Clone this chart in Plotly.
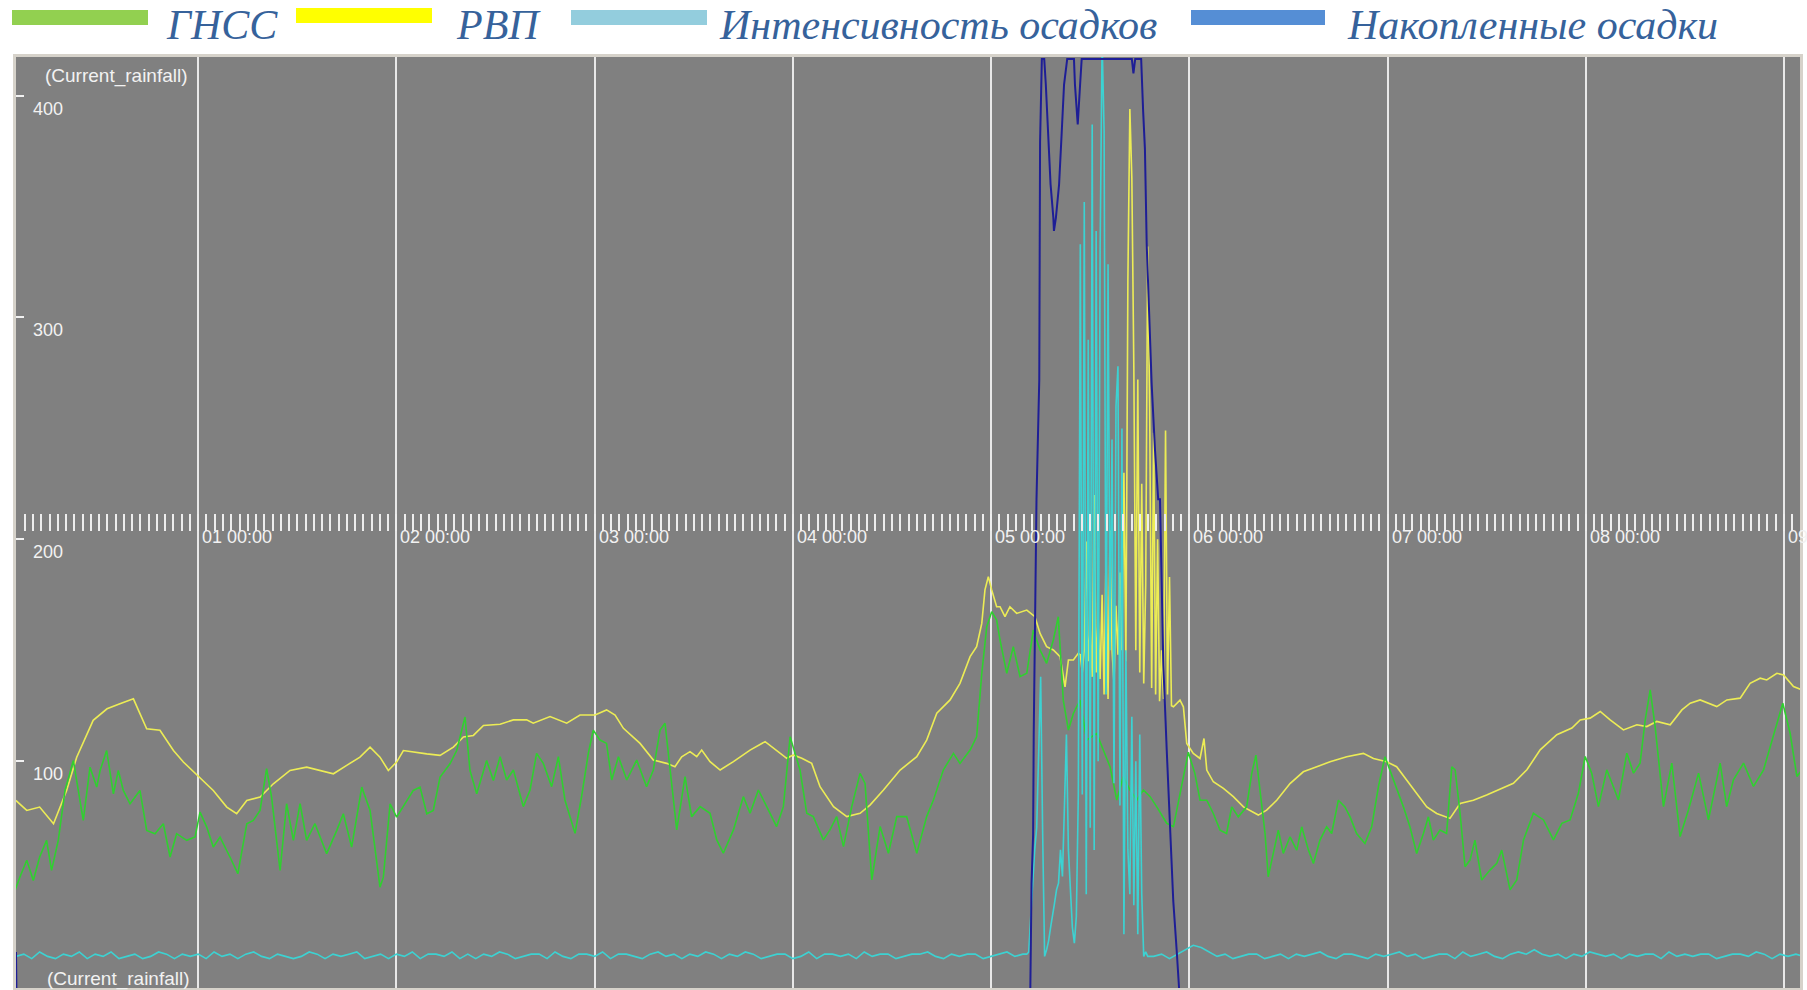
import plotly.graph_objects as go

# ---------------- data (time in days, values in chart units) ----------------
gnss = [(0.076,41.7),(0.10,47.7),(0.135,55.3),(0.168,46.2),(0.20,56.8),(0.235,64.3),(0.26,50.8),(0.294,64.3),
(0.328,86.8),(0.37,100.3),(0.395,86.8),(0.42,73.3),(0.454,97.3),(0.488,88.3),(0.505,95.8),(0.538,104.8),
(0.572,85.3),(0.597,95.8),(0.622,86.8),(0.656,80.8),(0.706,86.8),(0.74,68.8),(0.782,67.3),(0.824,71.8),
(0.858,56.8),(0.891,67.3),(0.942,64.3),(0.984,65.8),(1.009,77),(1.043,70.3),(1.076,61.3),(1.11,65.8),
(1.16,56.8),(1.20,49.3),(1.245,71.8),(1.278,73.3),(1.312,77.8),(1.345,96.6),(1.37,83.8),(1.413,50.8),
(1.446,80.8),(1.48,64.3),(1.514,80.8),(1.547,64.3),(1.589,71.8),(1.648,58.3),(1.699,68.8),(1.732,76.3),
(1.774,61.3),(1.825,88.3),(1.867,77.8),(1.917,43.2),(1.934,47.7),(1.968,80.8),(2.001,74.8),(2.043,80.8),
(2.085,86.8),(2.119,88.3),(2.153,76.3),(2.186,77.8),(2.22,92.8),(2.27,98.8),(2.304,104.8),(2.346,119.9),
(2.371,95.8),(2.405,85.3),(2.455,100.3),(2.489,91.3),(2.523,102),(2.556,91.5),(2.59,96),(2.64,79.5),
(2.674,87),(2.707,103.5),(2.741,99),(2.783,88.5),(2.817,102),(2.85,82.5),(2.901,67.5),(2.934,84),
(2.968,103.5),(2.993,114),(3.027,109.5),(3.06,108),(3.086,91.5),(3.12,102),(3.162,91.5),(3.212,100.5),
(3.262,88.5),(3.296,96),(3.33,114),(3.355,117.1),(3.38,97.5),(3.414,69),(3.456,93),(3.489,75),
(3.532,79.5),(3.582,76.5),(3.616,64.5),(3.649,58.5),(3.70,69),(3.75,84),(3.784,76.5),(3.826,87),
(3.868,79.5),(3.918,70.5),(3.952,79.5),(3.986,111),(4.011,103.5),(4.036,96),(4.07,76.5),(4.103,75),
(4.154,64.5),(4.187,69),(4.221,75),(4.255,61.5),(4.297,79.5),(4.339,94.5),(4.364,90),(4.398,46.5),
(4.44,70.5),(4.482,58.5),(4.524,75),(4.574,75),(4.625,58.5),(4.675,75),(4.709,82.5),(4.759,96),
(4.81,103.5),(4.843,99),(4.894,105),(4.927,111),(4.953,139.6),(4.978,160.6),(5.003,167.4),(5.028,163.6),
(5.045,154.6),(5.079,139.6),(5.112,151.6),(5.146,138.1),(5.18,139.6),(5.213,159.1),(5.247,150.1),(5.28,144.1),
(5.314,154.6),(5.339,165.1),(5.364,127.5),(5.39,114),(5.415,121.5),(5.449,127.5),(5.482,109.5),(5.533,112.5),
(5.566,105),(5.60,97.5),(5.634,82.5),(5.667,93),(5.701,87),(5.735,82.5),(5.768,87),(5.802,84),
(5.835,79.5),(5.886,72),(5.92,70.5),(5.953,85.5),(5.995,104),(6.028,94.5),(6.054,82.4),(6.088,82.4),
(6.121,76.4),(6.155,68.9),(6.188,67.4),(6.214,79.4),(6.247,74.9),(6.289,79.4),(6.315,94.5),(6.336,102.7),
(6.356,88.5),(6.382,67.4),(6.398,47.9),(6.424,58.4),(6.449,68.9),(6.474,58.4),(6.508,65.9),(6.542,59.9),
(6.567,70.4),(6.601,59.9),(6.626,53.9),(6.659,64.4),(6.693,70.4),(6.718,67.4),(6.752,82.4),(6.785,79.4),
(6.811,74.9),(6.844,67.4),(6.886,62.9),(6.92,70.4),(6.954,88.5),(6.987,102),(7.012,96),(7.046,86.9),
(7.08,79.4),(7.113,70.4),(7.147,58.4),(7.181,67.4),(7.206,74.9),(7.231,64.4),(7.265,68.9),(7.298,67.4),
(7.324,97.5),(7.341,96),(7.366,76.4),(7.391,52.4),(7.416,55.4),(7.441,64.4),(7.475,46.4),(7.517,50.9),
(7.551,53.9),(7.576,59.9),(7.618,42),(7.652,46.5),(7.686,64.5),(7.736,76.5),(7.787,73.5),(7.837,64.5),
(7.879,72),(7.921,73.5),(7.963,85.6),(7.997,102.1),(8.03,94.6),(8.064,79.5),(8.106,96.1),(8.165,82.5),
(8.207,103.6),(8.241,94.6),(8.274,99.1),(8.30,118.6),(8.325,132.1),(8.35,115.6),(8.392,79.5),(8.434,99.1),
(8.476,66),(8.518,78),(8.569,94.6),(8.619,73.5),(8.678,99.1),(8.711,79.5),(8.745,91.6),(8.796,99.1),
(8.846,88.6),(8.897,96.1),(8.947,111.1),(8.994,126.1),(9.031,112.6),(9.065,93.1),(9.09,96)]

rvp = [(0.080,82.3),(0.135,77.8),(0.20,79.3),(0.27,71.8),(0.336,86.8),(0.387,101.8),(0.47,118.4),(0.54,123.6),
(0.605,125.9),(0.673,128.1),(0.706,121.4),(0.74,114.6),(0.807,113.9),(0.875,104.8),(0.925,99.6),(1.004,92.8),
(1.076,86.8),(1.144,79.3),(1.194,76.3),(1.245,82.3),(1.312,83.8),(1.379,89.8),(1.463,95.8),(1.547,97.3),
(1.614,95.8),(1.682,94.3),(1.749,98.1),(1.816,101.8),(1.867,106.3),(1.917,101.8),(1.959,95.8),(2.001,99.6),
(2.035,104.8),(2.085,104.1),(2.153,103.3),(2.22,102.6),(2.287,106.3),(2.338,110.9),(2.388,111.6),(2.439,116.1),
(2.523,116.6),(2.59,118.6),(2.657,118.6),(2.69,117.1),(2.775,120.1),(2.859,117.1),(2.926,120.8),(3.002,120.8),
(3.06,123.1),(3.103,120.8),(3.145,114.8),(3.229,108.0),(3.296,100.5),(3.363,99),(3.405,97.5),(3.439,102),
(3.481,104.3),(3.515,102),(3.54,105),(3.582,99.8),(3.633,96),(3.70,99.8),(3.784,105),(3.86,108.8),
(3.918,105),(3.969,101.3),(4.002,102.8),(4.045,101.3),(4.095,99),(4.137,88.5),(4.205,79.5),(4.272,75),
(4.339,76.5),(4.389,80.2),(4.457,87),(4.541,96),(4.625,102),(4.675,109.5),(4.726,121.6),(4.793,127.6),
(4.843,135.1),(4.894,147.1),(4.927,151.6),(4.953,162.1),(4.969,177.2),(4.986,183.2),(5.003,177.2),(5.028,169.6),
(5.045,169.6),(5.07,165.1),(5.095,169.6),(5.129,166.6),(5.18,168.1),(5.221,165.1),(5.247,157.6),(5.28,151.6),
(5.314,150.1),(5.348,147.1),(5.373,133.5),(5.39,145.6),(5.415,145.6),(5.44,148.6),
(5.45,148),(5.46,140),(5.47,150),(5.48,199),(5.49,145),(5.50,160),(5.51,138),(5.52,220),(5.53,140),
(5.54,165),(5.55,137),(5.56,175),(5.57,130),(5.58,195),(5.59,128),(5.60,204),(5.61,150),(5.62,135),
(5.63,170),(5.64,148),(5.65,185),(5.66,150),(5.67,230),(5.68,145),(5.69,317),(5.70,394),(5.71,363),
(5.72,278),(5.73,150),(5.74,272),(5.75,140),(5.76,225),(5.77,135),(5.78,180),(5.79,332),(5.80,258),
(5.81,133),(5.82,248),(5.83,130),(5.84,200),(5.85,127),(5.86,150),(5.87,128),(5.88,249),(5.89,130),
(5.90,183),(5.91,125),(5.92,124.5),
(5.953,127.5),(5.97,124.5),(5.987,108),(6.02,103.5),(6.054,101.2),(6.074,110.2),(6.088,96),(6.121,90.7),
(6.172,87.7),(6.222,84),(6.273,79.4),(6.306,77.9),(6.348,75.7),(6.39,77.9),(6.441,82.4),(6.508,89.9),
(6.575,95.2),(6.643,97.5),(6.71,99.7),(6.794,102),(6.878,103.5),(6.929,101.2),(6.996,99.7),(7.046,97.5),
(7.097,91.5),(7.147,85.4),(7.198,79.4),(7.248,76.4),(7.315,74.2),(7.366,80.9),(7.433,82.4),(7.5,84.7),
(7.568,87.5),(7.635,90),(7.703,96.1),(7.77,105.1),(7.854,111.9),(7.93,114.9),(7.972,118.6),(8.022,119.4),
(8.073,122.4),(8.123,118.6),(8.19,114.1),(8.258,116.4),(8.308,115.6),(8.358,117.9),(8.426,116.4),(8.485,123.1),
(8.527,126.1),(8.577,127.6),(8.661,124.6),(8.712,127.6),(8.779,128.4),(8.829,135.1),(8.88,137.4),(8.913,136.6),
(8.964,139.6),(8.998,138.9),(9.048,133.6),(9.09,132.1)]

# rainfall intensity: quiet baseline before the storm (every 0.04 day from 0.08)
intens_pre_start, intens_step = 0.08, 0.04
intens_pre = [12,13,11,14,12,11,13,12,14,11,13,12,14,11,12,13,11,12,14,13,
              11,13,12,13,11,14,12,13,11,13,14,12,11,13,12,11,12,14,13,11,
              13,12,13,14,11,12,13,11,13,12,14,11,13,13,12,14,11,13,11,13,
              12,14,13,11,12,13,13,11,14,12,11,13,13,12,14,11,13,13,12,11,
              13,14,12,13,11,13,12,14,13,11,13,12,14,13,11,12,13,13,11,12,
              14,11,13,13,12,13,11,14,12,13,13,11,12,13,13,14,12,11,13,12,
              13,13,11,12,13,14,12,13]
intens_storm = [(5.18,13),(5.19,14),(5.20,30),(5.21,46),(5.22,60),(5.23,70),(5.24,100),(5.25,138),(5.26,68),
(5.27,12),(5.28,15),(5.29,19),(5.30,25),(5.31,30),(5.32,36),(5.33,42),(5.34,45),(5.35,60),(5.36,48),(5.37,80),
(5.38,112),(5.39,60),(5.40,40),(5.41,25),(5.42,18),(5.43,30),(5.44,85),(5.45,333),(5.46,85),(5.47,352),
(5.48,40),(5.49,290),(5.50,70),(5.51,387),(5.52,60),(5.53,339),(5.54,100),(5.55,330),(5.56,425),(5.57,384),
(5.58,130),(5.59,324),(5.60,150),(5.61,245),(5.62,90),(5.63,260),(5.64,278),(5.65,80),(5.66,250),(5.67,22),
(5.68,150),(5.69,60),(5.70,40),(5.71,120),(5.72,35),(5.73,100),(5.74,22),(5.75,112),(5.76,40),(5.77,12),
(5.78,14),(5.79,12)]
intens_post_start = 5.82
intens_post = [12,13,11,13,15,17,16,14,12,13,11,12,13,13,11,12,13,11,13,12,
               13,14,12,11,13,13,12,11,13,12,13,14,12,13,11,12,13,13,11,14,
               12,13,14,12,11,13,14,13,15,13,12,13,11,13,12,14,13,12,13,11,
               13,12,13,13,11,14,12,13,12,13,13,11,12,13,13,12,14,13,11,13,
               12,13,12]

accum = [(0.0807,14),(0.086,-30),(5.19,-30),(5.198,-2),(5.204,45),(5.212,67),(5.215,112),(5.221,172),
(5.229,218),(5.243,272),(5.247,379),(5.256,416.5),(5.268,416.5),(5.276,405),(5.289,377),(5.30,360),
(5.314,345),(5.317,339),(5.327,345),(5.343,360),(5.356,383),(5.368,405),(5.384,416.5),(5.418,416.5),
(5.423,405),(5.437,387),(5.449,405),(5.457,416.5),(5.71,416.5),(5.718,410),(5.727,416.5),(5.757,416.5),
(5.767,393),(5.776,376),(5.785,333),(5.794,308),(5.81,270),(5.827,240),(5.843,218),(5.852,218),
(5.869,143),(5.886,105),(5.903,67.5),(5.919,37),(5.936,15),(5.948,-2),(5.96,-30),(9.1,-30)]

y_ticks = [100, 200, 300, 400]
y_tick_labels = ["100", "200", "300", "400"]
day_ticks = [1, 2, 3, 4, 5, 6, 7, 8, 9]
day_labels = ["01 00:00", "02 00:00", "03 00:00", "04 00:00", "05 00:00",
              "06 00:00", "07 00:00", "08 00:00", "09 00:00"]
legend_names = ["ГНСС", "РВП", "Интенсивность осадков", "Накопленные осадки"]
legend_colors = ["#92D050", "#FFFF00", "#93CDDD", "#558ED5"]

# ---------------- geometry ----------------
W, H = 1807, 990
ML, MR, MT, MB = 16, 7, 57, 2
PW, PH = W - ML - MR, H - MT - MB
X_RANGE = [0.0807, 9.0808]
Y_RANGE = [-2.25, 417.4]


def px(xp):
    return (xp - ML) / PW


def py(yp):
    return (H - MB - yp) / PH


def unzip(pairs):
    return [p[0] for p in pairs], [p[1] for p in pairs]


gx, gy = unzip(gnss)
rx, ry = unzip(rvp)
sx, sy = unzip(intens_storm)
ix = [intens_pre_start + intens_step * i for i in range(len(intens_pre))] + sx + \
     [intens_post_start + intens_step * i for i in range(len(intens_post))]
iy = intens_pre + sy + intens_post
ax_, ay_ = unzip(accum)

fig = go.Figure()
fig.add_trace(go.Scatter(x=rx, y=ry, mode="lines", line=dict(color="#ECEC55", width=1.6),
                         name=legend_names[1], showlegend=False))
fig.add_trace(go.Scatter(x=gx, y=gy, mode="lines", line=dict(color="#2FD02F", width=1.6),
                         name=legend_names[0], showlegend=False))
fig.add_trace(go.Scatter(x=ix, y=iy, mode="lines", line=dict(color="#3CD2D2", width=1.6),
                         name=legend_names[2], showlegend=False))
fig.add_trace(go.Scatter(x=ax_, y=ay_, mode="lines", line=dict(color="#1E1E96", width=2),
                         name=legend_names[3], showlegend=False))
# carrier for the hourly tick row axis
fig.add_trace(go.Scatter(x=[None], y=[None], xaxis="x2", yaxis="y", showlegend=False,
                         hoverinfo="skip"))

axis_font = dict(family="Liberation Sans, Arial, sans-serif", size=18, color="#F2F2F2")
name_font = dict(family="Liberation Sans, Arial, sans-serif", size=19, color="#F2F2F2")

annotations = []
for d, lab in zip(day_ticks, day_labels):
    annotations.append(dict(x=d, y=py(537), xref="x", yref="paper", text=lab,
                            xanchor="left", yanchor="middle", xshift=2, showarrow=False,
                            font=axis_font))
for v, lab in zip(y_ticks, y_tick_labels):
    annotations.append(dict(x=px(31), y=v, xref="paper", yref="y", text=lab,
                            xanchor="left", yanchor="middle", yshift=-13, showarrow=False,
                            font=axis_font))
annotations.append(dict(x=px(43), y=py(76), xref="paper", yref="paper", text="(Current_rainfall)",
                        xanchor="left", yanchor="middle", showarrow=False, font=name_font))
annotations.append(dict(x=px(45), y=py(979), xref="paper", yref="paper", text="(Current_rainfall)",
                        xanchor="left", yanchor="middle", showarrow=False, font=name_font))

shapes = []
legend_bars = [(12, 148, 10, 25), (296, 432, 8, 23), (571, 707, 10, 25), (1191, 1325, 10, 25)]
legend_text_x = [164, 454, 717, 1345]
for (x0, x1, y0, y1), c, tx, name in zip(legend_bars, legend_colors, legend_text_x, legend_names):
    shapes.append(dict(type="rect", xref="paper", yref="paper", x0=px(x0), x1=px(x1),
                       y0=py(y1), y1=py(y0), fillcolor=c, line=dict(width=0), layer="above"))
    annotations.append(dict(x=px(tx), y=py(25), xref="paper", yref="paper",
                            text="<i>" + name + "</i>", xanchor="left", yanchor="middle",
                            showarrow=False,
                            font=dict(family="Liberation Serif, Times New Roman, serif",
                                      size=42, color="#36629B")))

fig.update_layout(
    width=W, height=H,
    margin=dict(l=ML, r=MR, t=MT, b=MB, pad=0),
    paper_bgcolor="white",
    plot_bgcolor="#808080",
    showlegend=False,
    xaxis=dict(range=X_RANGE, tick0=0, dtick=1, showgrid=True, gridcolor="#E8E8E8", gridwidth=2,
               showticklabels=False, ticks="", zeroline=False,
               showline=True, linecolor="#D6D2CA", linewidth=3, mirror=True),
    xaxis2=dict(overlaying="x", anchor="free", position=py(531), side="bottom",
                range=X_RANGE, tick0=0, dtick=1 / 24, ticks="inside", ticklen=17, tickwidth=2,
                tickcolor="#EDEDED", showticklabels=False, showgrid=False, zeroline=False,
                showline=False),
    yaxis=dict(range=Y_RANGE, tickvals=y_ticks, ticks="inside", ticklen=8, tickwidth=2,
               tickcolor="#F2F2F2", showgrid=False, zeroline=False, showticklabels=False,
               showline=True, linecolor="#D6D2CA", linewidth=3, mirror=True),
    annotations=annotations,
    shapes=shapes,
)

fig.write_html("out.html")
